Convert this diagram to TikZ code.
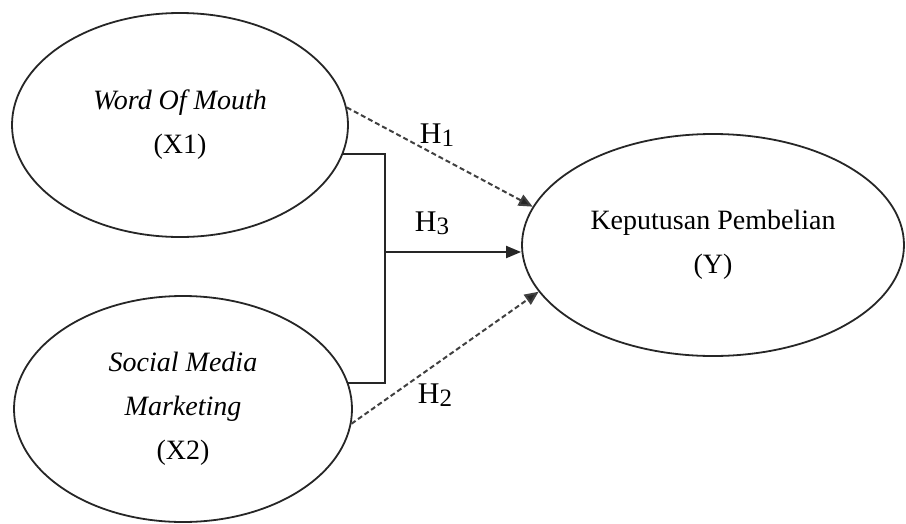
\documentclass[tikz,border=0pt]{standalone}
\usepackage{fontspec}
\setmainfont{Liberation Serif}
\usetikzlibrary{shapes.geometric,arrows.meta}
\newcommand{\hlab}[1]{H\raisebox{-3pt}{\fontsize{25}{25}\selectfont #1}}
\begin{document}
\begin{tikzpicture}[x=1pt,y=-1pt,
  varbox/.style={ellipse,draw=black!85,line width=1.8pt,inner sep=0pt,align=center,
    font=\fontsize{28}{44}\selectfont},
  hyp/.style={font=\fontsize{30}{30}\selectfont,inner sep=0pt},
  dashconn/.style={draw=black!75,line width=2pt,dash pattern=on 5pt off 3pt,
    -{Triangle[length=14pt,width=12pt,fill=black!85]}},
  solidconn/.style={draw=black!85,line width=2pt},
  arrconn/.style={solidconn,-{Triangle[length=15pt,width=12pt]}}]
\useasboundingbox (0,0) rectangle (906,523);
\node[varbox,minimum width=336pt,minimum height=224pt] (X1) at (180,125)
  {\textit{Word Of Mouth}\\(X1)};
\node[varbox,minimum width=338pt,minimum height=226pt] (X2) at (183,409)
  {\textit{Social Media}\\\textit{Marketing}\\(X2)};
\node[varbox,minimum width=382pt,minimum height=222pt] (Y) at (713,245)
  {Keputusan Pembelian\\(Y)};
\coordinate (J) at (385,252);
\draw[solidconn] (X1.-10.5) -| (J) |- (X2.9.4);
\draw[arrconn] (J) -- (J -| Y.west);
\draw[dashconn] (X1.6) -- (Y.168.5);
\draw[dashconn] (X2.-5.5) -- (Y.195.9);
\node[hyp] (H1) at (437,135) {\hlab{1}};
\node[hyp] (H3) at (432,223) {\hlab{3}};
\node[hyp] (H2) at (435,395) {\hlab{2}};
\end{tikzpicture}
\end{document}
